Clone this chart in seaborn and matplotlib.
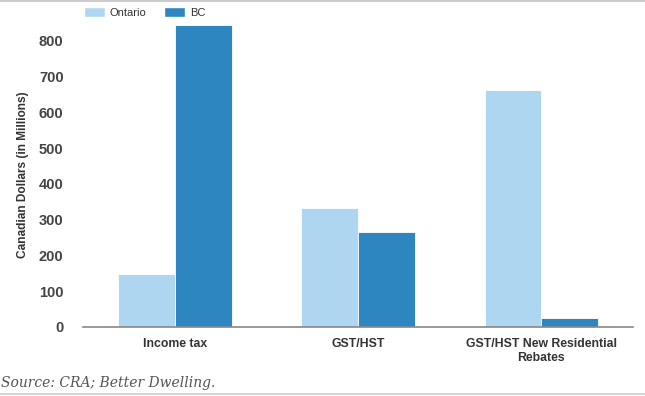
import pandas as pd
import matplotlib.pyplot as plt
import matplotlib.patches as mpatches
import seaborn as sns

# values (millions of CAD)
categories = ["Income tax", "GST/HST", "GST/HST New Residential\nRebates"]
ontario = [148, 333, 663]
bc = [845, 266, 25]
regions = ["Ontario", "BC"]
colors = ["#AED6F1", "#2E86C1"]

df = pd.DataFrame({
    "category": categories * 2,
    "region": ["Ontario"] * 3 + ["BC"] * 3,
    "value": ontario + bc,
})

sns.set_style("white")
plt.rcParams["font.family"] = ["Liberation Sans", "DejaVu Sans"]

fig = plt.figure(figsize=(6.45, 3.96), dpi=100)
ax = fig.add_axes([83 / 645, 69 / 396, 550 / 645, 304 / 396])

sns.barplot(data=df, x="category", y="value", hue="region",
            palette=colors, width=0.62, gap=0, saturation=1,
            edgecolor="white", linewidth=0.6, legend=False, ax=ax)

ax.set_ylim(0, 850)
ax.set_xlim(-0.5, 2.5)
ax.set_yticks([0, 100, 200, 300, 400, 500, 600, 700, 800])
ax.tick_params(axis="y", length=0, pad=14, labelsize=10.5, labelcolor="#444444")
ax.tick_params(axis="x", length=0, pad=8, labelsize=8.8, labelcolor="#333333")
for lbl in ax.get_yticklabels() + ax.get_xticklabels():
    lbl.set_fontweight("bold")

ax.set_xlabel("")
ax.set_ylabel("Canadian Dollars (in Millions)", fontsize=8.6, fontweight="bold",
              color="#333333", labelpad=7)

for s in ["top", "right", "left"]:
    ax.spines[s].set_visible(False)
ax.spines["bottom"].set_color("#888888")
ax.spines["bottom"].set_linewidth(1.2)

# legend at the top
handles = [mpatches.Patch(facecolor=c, label=r) for c, r in zip(colors, regions)]
fig.legend(handles=handles, loc="upper left", bbox_to_anchor=(84 / 645, 1 - 7 / 396),
           ncol=2, frameon=False, fontsize=8, borderpad=0, borderaxespad=0,
           handlelength=1.9, handleheight=1.0, handletextpad=0.4, columnspacing=1.6,
           labelcolor="#333333")

# source note and thin rules
fig.text(0.002, 1 - 387 / 396, "Source: CRA; Better Dwelling.", family="DejaVu Serif",
         style="italic", fontsize=10, color="#555555", va="baseline")
fig.add_artist(plt.Line2D([0, 1], [0.998, 0.998], color="#cccccc", lw=1.5))
fig.add_artist(plt.Line2D([0, 1], [1 - 394 / 396, 1 - 394 / 396], color="#cccccc", lw=1.2))

fig.savefig("out.png", dpi=100)
